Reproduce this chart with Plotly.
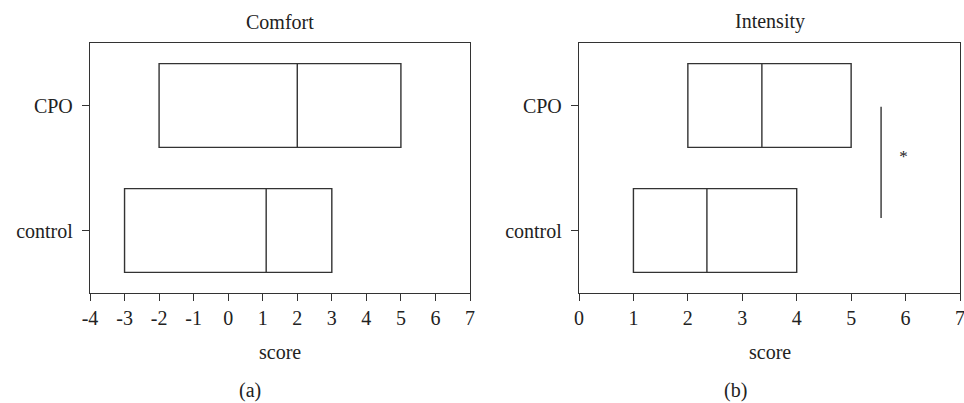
import plotly.graph_objects as go

groups = ["control", "CPO"]

comfort_q1 = [-3.0, -2.0]
comfort_median = [1.1, 2.0]
comfort_q3 = [3.0, 5.0]

intensity_q1 = [1.0, 2.0]
intensity_median = [2.35, 3.36]
intensity_q3 = [4.0, 5.0]

comfort_ticks = [-4, -3, -2, -1, 0, 1, 2, 3, 4, 5, 6, 7]
intensity_ticks = [0, 1, 2, 3, 4, 5, 6, 7]

sig_x = 5.55
sig_y = [0.1, 0.99]
star_pos = (5.96, 0.58)

FONT = "Liberation Serif"
INK = "#222222"
LINE = "#333333"

fig = go.Figure()
pos = list(range(len(groups)))

for i, g in enumerate(groups):
    fig.add_trace(go.Box(
        y=[pos[i]], q1=[comfort_q1[i]], median=[comfort_median[i]], q3=[comfort_q3[i]],
        lowerfence=[comfort_q1[i]], upperfence=[comfort_q3[i]],
        orientation="h", width=0.67, whiskerwidth=0, fillcolor="white",
        line=dict(color=LINE, width=1.4), xaxis="x", yaxis="y", showlegend=False,
        boxpoints=False, name=g))
    fig.add_trace(go.Box(
        y=[pos[i]], q1=[intensity_q1[i]], median=[intensity_median[i]], q3=[intensity_q3[i]],
        lowerfence=[intensity_q1[i]], upperfence=[intensity_q3[i]],
        orientation="h", width=0.67, whiskerwidth=0, fillcolor="white",
        line=dict(color=LINE, width=1.4), xaxis="x2", yaxis="y2", showlegend=False,
        boxpoints=False, name=g))

fig.add_trace(go.Scatter(x=[sig_x, sig_x], y=sig_y, mode="lines",
                         line=dict(color=LINE, width=1.4), xaxis="x2", yaxis="y2",
                         showlegend=False, hoverinfo="skip"))
fig.add_trace(go.Scatter(x=[star_pos[0]], y=[star_pos[1]], mode="text", text=["*"],
                         textfont=dict(family=FONT, size=17, color=INK),
                         xaxis="x2", yaxis="y2", showlegend=False, hoverinfo="skip"))

ydom = [1 - 293 / 403, 1 - 43 / 403]
axis_common = dict(showgrid=False, zeroline=False, showline=True, linecolor=LINE,
                   linewidth=1.4, mirror=True, ticks="outside", ticklen=7,
                   tickcolor=LINE, tickwidth=1.4, automargin=False,
                   ticklabeloverflow="allow",
                   tickfont=dict(family=FONT, size=20, color=INK))

fig.update_layout(
    width=964, height=403,
    margin=dict(l=0, r=0, t=0, b=0, pad=0),
    plot_bgcolor="white", paper_bgcolor="white",
    xaxis=dict(domain=[90 / 964, 470 / 964], range=[-4, 7], tickvals=comfort_ticks,
               ticktext=[str(t) for t in comfort_ticks], anchor="y", **axis_common),
    yaxis=dict(domain=ydom, range=[-0.5, 1.5], tickvals=pos, ticktext=groups,
               anchor="x", ticklabelstandoff=5, **axis_common),
    xaxis2=dict(domain=[579 / 964, 960 / 964], range=[0, 7], tickvals=intensity_ticks,
                ticktext=[str(t) for t in intensity_ticks], anchor="y2", **axis_common),
    yaxis2=dict(domain=ydom, range=[-0.5, 1.5], tickvals=pos, ticktext=groups,
                anchor="x2", ticklabelstandoff=5, **axis_common),
)

def label(text, x, y):
    fig.add_annotation(text=text, x=x, y=y, xref="paper", yref="paper",
                       showarrow=False, font=dict(family=FONT, size=20, color=INK),
                       xanchor="center", yanchor="middle")

label("Comfort", 280 / 964, 1 - 22 / 403)
label("Intensity", 769.5 / 964, 1 - 22 / 403)
label("score", 280 / 964, 1 - 352 / 403)
label("score", 769.5 / 964, 1 - 352 / 403)
label("(a)", 250 / 964, 1 - 390 / 403)
label("(b)", 735 / 964, 1 - 390 / 403)

fig.write_html("out.html", config={"displayModeBar": False},
               post_script="document.body.style.margin='0';")
